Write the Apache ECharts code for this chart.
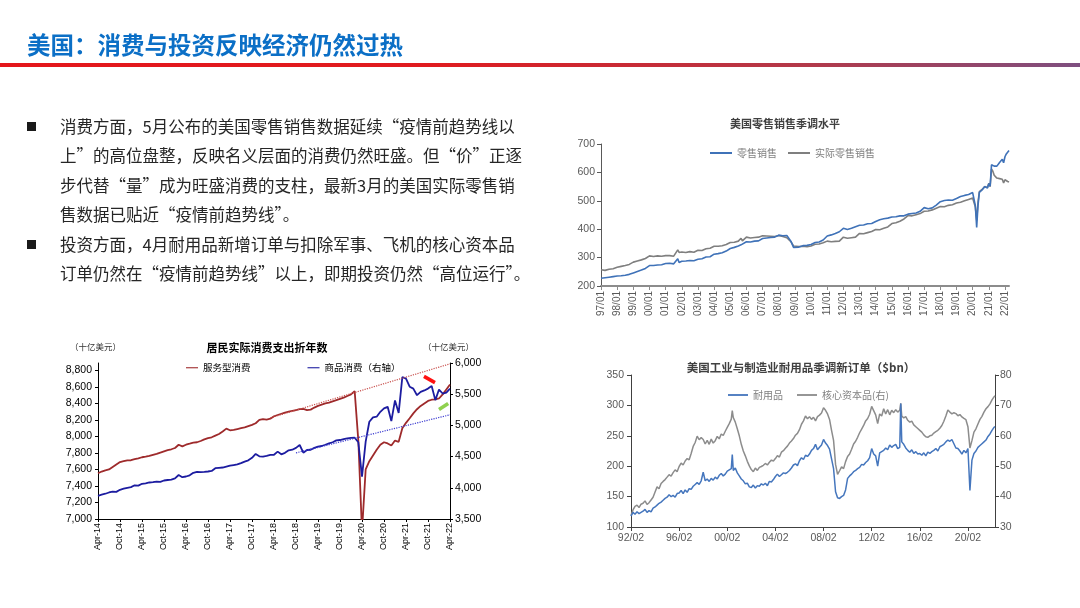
<!DOCTYPE html>
<html><head><meta charset="utf-8">
<script src="https://cdn.jsdelivr.net/npm/echarts@6/dist/echarts.min.js"></script>
<style>
html,body{margin:0;padding:0;width:1080px;height:608px;background:#fff;overflow:hidden;}
#chart{position:absolute;left:0;top:0;width:1080px;height:608px;}
#hdr{position:absolute;left:27px;top:27px;font-family:"Noto Sans CJK SC";font-weight:bold;font-size:23.5px;color:#0B6FC6;line-height:34px;white-space:nowrap;}
#bar{position:absolute;left:0;top:63px;width:1080px;height:4px;background:linear-gradient(to right,#E4161B 0%,#E01B1F 40%,#B2394A 75%,#7E4F80 100%);}
#txt{position:absolute;left:27px;top:112px;font-family:"Noto Sans CJK SC";font-size:16.5px;line-height:29.4px;color:#262626;white-space:nowrap;}
#txt .ln{position:relative;padding-left:33px;height:29.4px;}
#txt .bl{position:absolute;left:0;top:10px;width:9px;height:9px;background:#1a1a1a;}
</style></head>
<body>
<div id="chart"></div>
<div id="hdr">美国：消费与投资反映经济仍然过热</div>
<div id="bar"></div>
<div id="txt">
<div class="ln"><span class="bl"></span>消费方面，5月公布的美国零售销售数据延续“疫情前趋势线以</div>
<div class="ln">上”的高位盘整，反映名义层面的消费仍然旺盛。但“价”正逐</div>
<div class="ln">步代替“量”成为旺盛消费的支柱，最新3月的美国实际零售销</div>
<div class="ln">售数据已贴近“疫情前趋势线”。</div>
<div class="ln"><span class="bl"></span>投资方面，4月耐用品新增订单与扣除军事、飞机的核心资本品</div>
<div class="ln">订单仍然在“疫情前趋势线”以上，即期投资仍然“高位运行”。</div>
</div>
<script>
// ---------- Chart A: US retail sales (SA level) ----------
const retailDates = [
'1997-01','1997-04','1997-07','1997-10',
'1998-01','1998-04','1998-07','1998-10',
'1999-01','1999-04','1999-07','1999-10',
'2000-01','2000-04','2000-07','2000-10',
'2001-01','2001-04','2001-07','2001-10','2001-11',
'2002-01','2002-04','2002-07','2002-10',
'2003-01','2003-04','2003-07','2003-10',
'2004-01','2004-04','2004-07','2004-10',
'2005-01','2005-04','2005-07','2005-09','2005-10',
'2006-01','2006-04','2006-07','2006-10',
'2007-01','2007-04','2007-07','2007-10',
'2008-01','2008-04','2008-07','2008-10','2008-12',
'2009-01','2009-04','2009-07','2009-10',
'2010-01','2010-04','2010-07','2010-10',
'2011-01','2011-04','2011-07','2011-10',
'2012-01','2012-04','2012-07','2012-10',
'2013-01','2013-04','2013-07','2013-10',
'2014-01','2014-04','2014-07','2014-10',
'2015-01','2015-04','2015-07','2015-10',
'2016-01','2016-04','2016-07','2016-10',
'2017-01','2017-04','2017-07','2017-10',
'2018-01','2018-04','2018-07','2018-10',
'2019-01','2019-04','2019-07','2019-10',
'2020-01','2020-02','2020-03','2020-04','2020-05','2020-06','2020-07','2020-08','2020-09','2020-10','2020-11','2020-12',
'2021-01','2021-02','2021-03','2021-04','2021-05','2021-06','2021-07','2021-08','2021-09','2021-10','2021-11','2021-12',
'2022-01','2022-02','2022-03','2022-04'
];
const retailNominal = [
227,229,231,233,
235,236,238,241,
246,251,256,262,
272,272,274,275,
279,280,278,296,283,
287,288,290,289,
294,296,302,303,
312,314,317,323,
332,336,341,345,343,
356,355,358,359,
367,369,371,372,
379,377,378,358,336,
338,337,342,343,
346,353,355,362,
376,380,385,391,
403,399,403,409,
414,415,419,420,
427,433,437,439,
443,444,447,447,
453,455,457,463,
476,472,475,485,
497,501,503,502,
508,515,519,522,
529,526,483,406,485,530,535,538,545,550,548,545,
560,552,627,626,622,625,622,628,635,641,646,634,
655,665,672,677
];
const retailReal = [
257,255,259,261,
266,269,272,276,
284,288,292,297,
306,304,306,305,
307,307,305,327,318,
320,318,321,319,
326,325,331,333,
340,340,342,346,
353,354,358,368,359,
372,369,371,372,
377,376,375,374,
378,374,370,356,341,
340,339,340,338,
341,347,348,352,
358,356,357,358,
372,368,370,372,
385,384,388,392,
399,398,403,408,
420,423,428,436,
448,447,451,455,
463,464,468,474,
480,479,484,486,
492,495,500,505,
510,508,478,432,495,532,536,540,546,550,549,547,
562,550,612,604,590,583,580,577,578,580,576,563,
574,570,568,566
];
const retailYearTicks = [1997,1998,1999,2000,2001,2002,2003,2004,2005,2006,2007,2008,2009,2010,2011,2012,2013,2014,2015,2016,2017,2018,2019,2020,2021,2022];

// ---------- Chart B: real PCE (annualized), Apr-14 .. Apr-22 monthly ----------
const pceStart = {year: 2014, month: 4};
const pceServices = [
7554,7575,7590,7600,7630,7660,
7690,7700,7710,7712,7725,7735,
7748,7755,7765,7778,7790,7805,
7820,7835,7845,7860,7900,7880,
7900,7912,7925,7930,7945,7965,
7980,7990,8010,8030,8060,8095,
8075,8080,8090,8100,8110,8125,
8140,8160,8200,8210,8205,8215,
8245,8260,8275,8290,8300,8310,
8320,8330,8335,8320,8325,8350,
8370,8385,8400,8410,8425,8440,
8455,8470,8490,8510,8550,7950,
6850,7600,7700,7770,7840,7900,
7930,7915,7890,7950,7935,8100,
8165,8220,8280,8330,8370,8400,
8430,8445,8450,8460,8510,8570,
8630
];
const pceGoods = [
3872,3890,3905,3925,3940,3935,
3968,3985,4000,4010,4040,4035,
4064,4070,4085,4090,4100,4095,
4117,4125,4130,4150,4205,4170,
4181,4200,4240,4255,4250,4255,
4261,4270,4314,4320,4325,4340,
4355,4365,4375,4395,4420,4440,
4480,4542,4505,4500,4510,4527,
4530,4580,4537,4560,4600,4610,
4640,4686,4563,4606,4610,4640,
4660,4670,4690,4713,4730,4760,
4766,4780,4793,4800,4803,4729,
4180,4740,5058,5128,5139,5218,
5272,5298,5069,5400,5200,5775,
5750,5620,5590,5484,5537,5560,
5590,5633,5405,5575,5511,5527,
5590
];
// pre-pandemic trend lines and annotation strokes (month index, value)
const svcTrendIdx = [47, 96], svcTrendVal = [8225, 8880];
const goodsTrendIdx = [54, 96], goodsTrendVal = [4560, 5170];
const redMarkIdx = [88.9, 91.9], redMarkVal = [8728, 8652];
const greenMarkIdx = [93.0, 95.5], greenMarkVal = [8326, 8399];
const pceLeftTicks = [7000,7200,7400,7600,7800,8000,8200,8400,8600,8800];

// ---------- Chart C: durable goods & core capital goods new orders ----------
const orderDates = [
'1992-02','1992-04','1992-06','1992-08','1992-10','1992-12',
'1993-02','1993-04','1993-06','1993-08','1993-10','1993-12',
'1994-02','1994-04','1994-06','1994-08','1994-10','1994-12',
'1995-02','1995-04','1995-06','1995-08','1995-10','1995-12',
'1996-02','1996-04','1996-06','1996-08','1996-10','1996-12',
'1997-02','1997-04','1997-06','1997-08','1997-10','1997-12',
'1998-02','1998-04','1998-06','1998-08','1998-10','1998-12',
'1999-02','1999-04','1999-06','1999-08','1999-10','1999-12',
'2000-02','2000-04','2000-06','2000-07','2000-08','2000-10','2000-12',
'2001-02','2001-04','2001-06','2001-08','2001-10','2001-12',
'2002-02','2002-04','2002-06','2002-08','2002-10','2002-12',
'2003-02','2003-04','2003-06','2003-08','2003-10','2003-12',
'2004-02','2004-04','2004-06','2004-08','2004-10','2004-12',
'2005-02','2005-04','2005-06','2005-08','2005-10','2005-12',
'2006-02','2006-04','2006-06','2006-08','2006-10','2006-12',
'2007-02','2007-04','2007-06','2007-08','2007-10','2007-12',
'2008-02','2008-04','2008-06','2008-08','2008-10','2008-12',
'2009-02','2009-04','2009-06','2009-08','2009-10','2009-12',
'2010-02','2010-04','2010-06','2010-08','2010-10','2010-12',
'2011-02','2011-04','2011-06','2011-08','2011-10','2011-12',
'2012-02','2012-04','2012-06','2012-08','2012-10','2012-12',
'2013-02','2013-04','2013-06','2013-08','2013-10','2013-12',
'2014-02','2014-04','2014-06','2014-07','2014-08','2014-10','2014-12',
'2015-02','2015-04','2015-06','2015-08','2015-10','2015-12',
'2016-02','2016-04','2016-06','2016-08','2016-10','2016-12',
'2017-02','2017-04','2017-06','2017-08','2017-10','2017-12',
'2018-02','2018-04','2018-06','2018-08','2018-10','2018-12',
'2019-02','2019-04','2019-06','2019-08','2019-10','2019-12',
'2020-02','2020-04','2020-06','2020-08','2020-10','2020-12',
'2021-02','2021-04','2021-06','2021-08','2021-10','2021-12',
'2022-02','2022-04','2022-05'
];
const durableOrders = [
118,124,121,125,122,124,
126,129,124,127,125,131,
133,136,139,141,144,147,
149,153,150,152,149,155,
156,160,155,161,157,163,
162,167,170,173,170,176,
190,176,179,175,180,177,
182,179,185,188,184,187,
192,194,196,219,193,197,189,
184,179,176,171,172,166,
165,169,164,168,167,171,
169,172,168,175,174,178,
183,187,183,186,189,188,
190,193,197,202,204,201,
209,214,211,218,216,220,
226,229,236,227,231,235,
244,238,234,228,212,196,
158,148,147,150,152,161,
180,184,187,191,193,196,
198,203,202,206,209,214,
229,220,217,200,222,224,
226,230,227,235,231,234,
236,229,231,303,240,236,230,
226,223,227,221,224,220,
221,218,222,217,223,221,
224,226,229,225,232,234,
236,240,243,241,244,237,
230,229,225,220,226,222,
229,160,210,221,225,231,
234,237,240,243,249,253,
259,264,265
];
const coreCapitalOrders = [
33.8,35.6,36.8,37.2,36.4,37.5,
37.8,38.6,37.4,38.0,38.9,39.8,
41.5,43.2,42.6,44.3,45.0,45.6,
46.4,47.2,46.7,47.9,48.8,48.2,
49.9,51.0,50.4,51.7,52.5,52.1,
54.2,56.5,57.8,59.9,58.7,59.4,
58.8,57.3,58.5,57.2,58.9,57.6,
58.4,59.8,59.0,60.6,60.1,61.5,
62.8,64.0,65.5,68.3,66.0,64.5,62.3,
60.0,57.2,55.0,53.4,51.6,50.1,
48.9,48.2,49.4,48.6,49.6,49.9,
50.3,50.9,50.4,51.3,52.0,51.7,
52.5,53.5,53.0,54.6,55.1,55.9,
56.6,57.6,58.3,59.1,60.2,60.8,
62.0,63.8,64.9,66.5,65.6,66.3,
65.4,66.1,64.9,66.3,66.8,67.5,
69.2,68.4,67.2,65.4,61.8,58.5,
50.6,47.3,48.5,49.8,49.2,51.5,
53.2,54.0,55.6,57.3,58.2,59.5,
61.0,62.2,63.4,64.9,65.7,67.1,
69.7,68.3,66.9,64.0,67.2,66.5,
68.9,67.2,68.6,66.9,68.4,67.6,
68.6,67.8,68.4,70.7,66.5,65.9,66.3,
65.1,64.5,64.8,63.6,63.0,62.4,
61.8,61.2,60.3,59.7,59.5,60.0,
60.2,60.9,61.4,61.8,62.5,63.4,
64.8,66.5,68.5,67.8,67.2,67.6,
67.3,66.6,67.0,66.2,65.7,65.3,
63.0,56.0,58.4,61.2,62.3,63.9,
65.4,66.4,67.8,68.9,69.6,70.5,
71.8,72.8,73.2
];
const orderTickDates = ['1992-02','1996-02','2000-02','2004-02','2008-02','2012-02','2016-02','2020-02'];

// ---------- helpers ----------
function ym(s){ const p = s.split('-').map(Number); return p[0] + (p[1]-1)/12; }
function pad2(n){ return String(n).padStart(2,'0'); }
const monNames = ['Jan','Feb','Mar','Apr','May','Jun','Jul','Aug','Sep','Oct','Nov','Dec'];
const pceLabels = pceServices.map((_, i) => {
  const t = pceStart.month - 1 + i;
  return monNames[t % 12] + '-' + pad2((pceStart.year + Math.floor(t/12)) % 100);
});
const zip = (xs, ys) => xs.map((x, i) => [x, ys[i]]);
const retailX = retailDates.map(ym);
const orderX = orderDates.map(ym);
const orderTicks = orderTickDates.map(ym);
const idx = pceServices.map((_, i) => i);

const NUM = '"Liberation Sans", Arial, sans-serif';
const CJK = '"Noto Sans CJK SC", sans-serif';
const LINE_ICON = 'path://M0,4L22,4L22,6L0,6Z';

const chart = echarts.init(document.getElementById('chart'), null, {renderer: 'canvas'});
const option = {
  animation: false,
  backgroundColor: 'transparent',
  textStyle: {fontFamily: CJK},
  grid: [
    {left: 601, top: 144, width: 408, height: 142, outerBoundsMode: 'none'},
    {left: 98, top: 363, width: 352, height: 156, outerBoundsMode: 'none'},
    {left: 631, top: 375, width: 364, height: 152, outerBoundsMode: 'none'}
  ],
  xAxis: [
    { gridIndex: 0, type: 'value', min: 1997, max: 2022.25, interval: 1,
      axisLine: {lineStyle: {color: '#8c8c8c', width: 2}},
      axisTick: {show: true, length: 4, lineStyle: {color: '#8c8c8c'}, customValues: retailYearTicks},
      axisLabel: {rotate: 90, fontSize: 10, fontFamily: NUM, color: '#595959', margin: 5,
        customValues: retailYearTicks,
        formatter: v => Math.abs(v - Math.round(v)) < 1e-6 ? pad2(Math.round(v) % 100) + '/01' : ''},
      splitLine: {show: false} },
    { gridIndex: 1, type: 'value', min: 0, max: 96, interval: 6,
      axisLine: {lineStyle: {color: '#000', width: 1}},
      axisTick: {show: true, length: 3, lineStyle: {color: '#000'}},
      axisLabel: {rotate: 90, fontSize: 9, fontFamily: NUM, color: '#000', margin: 4,
        formatter: v => pceLabels[Math.round(v)] || ''},
      splitLine: {show: false} },
    { gridIndex: 2, type: 'value', min: 1992 + 1/12, max: 2022 + 4/12, interval: 4,
      axisLine: {lineStyle: {color: '#404040', width: 1}},
      axisTick: {show: true, length: 4, lineStyle: {color: '#404040'}, customValues: orderTicks},
      axisLabel: {fontSize: 10.5, fontFamily: NUM, color: '#595959', margin: 6,
        customValues: orderTicks,
        formatter: v => { const y = Math.round(v - 1/12); return pad2(y % 100) + '/02'; }},
      splitLine: {show: false} }
  ],
  yAxis: [
    { gridIndex: 0, type: 'value', min: 200, max: 700, interval: 100,
      axisLine: {show: true, lineStyle: {color: '#595959'}},
      axisTick: {show: true, length: 4, lineStyle: {color: '#595959'}},
      axisLabel: {fontSize: 10.5, fontFamily: NUM, color: '#595959', margin: 6},
      splitLine: {show: false} },
    { gridIndex: 1, type: 'value', min: 7000, max: 8890, interval: 200, position: 'left',
      axisLine: {show: true, lineStyle: {color: '#000'}},
      axisTick: {show: true, length: 3, lineStyle: {color: '#000'}, customValues: pceLeftTicks},
      axisLabel: {fontSize: 10.5, fontFamily: NUM, color: '#000', margin: 6, customValues: pceLeftTicks,
        formatter: v => (v % 200 === 0 && v <= 8800) ? v.toLocaleString('en-US') : ''},
      splitLine: {show: false} },
    { gridIndex: 1, type: 'value', min: 3500, max: 6000, interval: 500, position: 'right',
      axisLine: {show: true, lineStyle: {color: '#000'}},
      axisTick: {show: true, length: 3, lineStyle: {color: '#000'}},
      axisLabel: {fontSize: 10.5, fontFamily: NUM, color: '#000', margin: 5,
        formatter: v => v.toLocaleString('en-US')},
      splitLine: {show: false} },
    { gridIndex: 2, type: 'value', min: 100, max: 350, interval: 50, position: 'left',
      axisLine: {show: true, lineStyle: {color: '#404040'}},
      axisTick: {show: true, length: 4, lineStyle: {color: '#404040'}},
      axisLabel: {fontSize: 10.5, fontFamily: NUM, color: '#595959', margin: 7},
      splitLine: {show: false} },
    { gridIndex: 2, type: 'value', min: 30, max: 80, interval: 10, position: 'right',
      axisLine: {show: true, lineStyle: {color: '#404040'}},
      axisTick: {show: true, length: 4, lineStyle: {color: '#404040'}},
      axisLabel: {fontSize: 10.5, fontFamily: NUM, color: '#595959', margin: 5},
      splitLine: {show: false} }
  ],
  legend: [
    { data: ['零售销售', '实际零售销售'], left: 705, top: 143, itemWidth: 22, itemHeight: 10, itemGap: 11,
      textStyle: {fontSize: 10, color: '#7f7f7f', fontFamily: CJK}, icon: LINE_ICON },
    { data: ['服务型消费', '商品消费（右轴）'], left: 181, top: 358, itemWidth: 12, itemHeight: 10, itemGap: 57,
      textStyle: {fontSize: 9.5, color: '#000', fontFamily: CJK}, icon: LINE_ICON },
    { data: ['耐用品', '核心资本品(右)'], left: 723, top: 385, itemWidth: 20, itemHeight: 10, itemGap: 14,
      textStyle: {fontSize: 10, color: '#7f7f7f', fontFamily: CJK}, icon: LINE_ICON }
  ],
  graphic: [
    {type: 'text', x: 785, y: 124, style: {text: '美国零售销售季调水平', align: 'center', verticalAlign: 'middle', fill: '#404040', font: 'bold 11px "Noto Sans CJK SC"'}},
    {type: 'text', x: 267, y: 348, style: {text: '居民实际消费支出折年数', align: 'center', verticalAlign: 'middle', fill: '#000', font: 'bold 11px "Noto Sans CJK SC"'}},
    {type: 'text', x: 70, y: 347, style: {text: '（十亿美元）', align: 'left', verticalAlign: 'middle', fill: '#333', font: '8.5px "Noto Sans CJK SC"'}},
    {type: 'text', x: 423, y: 347, style: {text: '（十亿美元）', align: 'left', verticalAlign: 'middle', fill: '#333', font: '8.5px "Noto Sans CJK SC"'}},
    {type: 'text', x: 801, y: 368, style: {text: '美国工业与制造业耐用品季调新订单（$bn）', align: 'center', verticalAlign: 'middle', fill: '#404040', font: 'bold 11.5px "Noto Sans CJK SC"'}}
  ],
  series: [
    {name: '零售销售', type: 'line', xAxisIndex: 0, yAxisIndex: 0, symbol: 'none',
      lineStyle: {color: '#3f72b8', width: 1.6}, itemStyle: {color: '#3f72b8'}, data: zip(retailX, retailNominal), z: 3},
    {name: '实际零售销售', type: 'line', xAxisIndex: 0, yAxisIndex: 0, symbol: 'none',
      lineStyle: {color: '#7f7f7f', width: 1.6}, itemStyle: {color: '#7f7f7f'}, data: zip(retailX, retailReal), z: 2},

    {name: '服务型消费', type: 'line', xAxisIndex: 1, yAxisIndex: 1, symbol: 'none',
      lineStyle: {color: '#9e2a2b', width: 1.8}, itemStyle: {color: '#9e2a2b'}, data: zip(idx, pceServices)},
    {name: '商品消费（右轴）', type: 'line', xAxisIndex: 1, yAxisIndex: 2, symbol: 'none',
      lineStyle: {color: '#1c1ca0', width: 1.8}, itemStyle: {color: '#1c1ca0'}, data: zip(idx, pceGoods)},
    {name: 'svcTrend', type: 'line', xAxisIndex: 1, yAxisIndex: 1, symbol: 'none',
      lineStyle: {color: '#c8504d', width: 1.2, type: 'dotted'}, data: zip(svcTrendIdx, svcTrendVal)},
    {name: 'goodsTrend', type: 'line', xAxisIndex: 1, yAxisIndex: 2, symbol: 'none',
      lineStyle: {color: '#3c3cd0', width: 1.2, type: 'dotted'}, data: zip(goodsTrendIdx, goodsTrendVal)},
    {name: 'redMark', type: 'line', xAxisIndex: 1, yAxisIndex: 1, symbol: 'none',
      lineStyle: {color: '#ff1010', width: 3.5}, data: zip(redMarkIdx, redMarkVal)},
    {name: 'greenMark', type: 'line', xAxisIndex: 1, yAxisIndex: 1, symbol: 'none',
      lineStyle: {color: '#8fd14f', width: 3.5}, data: zip(greenMarkIdx, greenMarkVal)},

    {name: '耐用品', type: 'line', xAxisIndex: 2, yAxisIndex: 3, symbol: 'none',
      lineStyle: {color: '#4576bd', width: 1.5}, itemStyle: {color: '#4576bd'}, data: zip(orderX, durableOrders), z: 3},
    {name: '核心资本品(右)', type: 'line', xAxisIndex: 2, yAxisIndex: 4, symbol: 'none',
      lineStyle: {color: '#8c8c8c', width: 1.5}, itemStyle: {color: '#8c8c8c'}, data: zip(orderX, coreCapitalOrders), z: 2}
  ]
};
chart.setOption(option);
</script>
</body></html>
